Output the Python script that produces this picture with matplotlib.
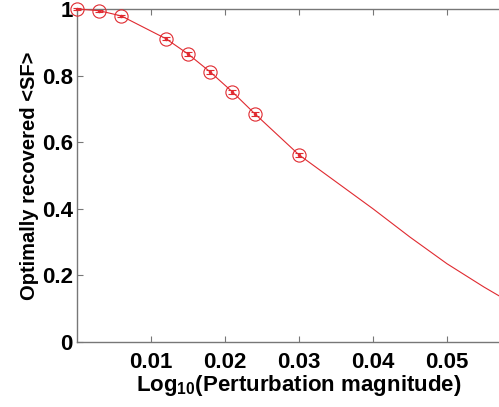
import matplotlib.pyplot as plt

# measured points (with error bars)
pert = [0.0, 0.003, 0.006, 0.012, 0.015, 0.018, 0.021, 0.024, 0.030]
sf = [1.0, 0.995, 0.979, 0.911, 0.865, 0.811, 0.751, 0.686, 0.562]
sf_err = [0.002, 0.003, 0.004, 0.004, 0.005, 0.005, 0.006, 0.006, 0.007]

# continuation of the curve (no markers)
pert_tail = [0.030, 0.035, 0.040, 0.045, 0.050, 0.055, 0.060]
sf_tail = [0.562, 0.481, 0.400, 0.315, 0.235, 0.165, 0.100]

plt.rcParams['font.family'] = ['Liberation Sans', 'DejaVu Sans']
plt.rcParams['mathtext.fontset'] = 'custom'
plt.rcParams['mathtext.rm'] = 'Liberation Sans:bold'

fig = plt.figure(figsize=(4.99, 4.07), dpi=100)
ax = fig.add_axes([0.1543, 0.1597, 0.8898, 0.8182])

red = '#e02a30'
ax.plot(pert_tail, sf_tail, color=red, lw=0.8)
ax.errorbar(pert, sf, yerr=sf_err, fmt='o', mfc='none', mec=red, ms=9.5,
            mew=0.8, ecolor=red, elinewidth=0.8, capsize=3, capthick=0.8,
            color=red, ls='-', lw=0.8, clip_on=False, zorder=3)
ax.plot(pert, sf, '.', color=red, ms=3, clip_on=False, zorder=4)

ax.set_xlim(0, 0.06)
ax.set_ylim(0, 1)
ax.set_xticks([0.01, 0.02, 0.03, 0.04, 0.05])
ax.set_xticklabels(['0.01', '0.02', '0.03', '0.04', '0.05'])
ax.set_yticks([0, 0.2, 0.4, 0.6, 0.8, 1])
ax.set_yticklabels(['0', '0.2', '0.4', '0.6', '0.8', '1'])

for s in ax.spines.values():
    s.set_color('#777777')
    s.set_linewidth(1.0)
ax.tick_params(direction='in', top=True, right=True, length=4, width=0.8,
               color='#777777', labelsize=16, pad=3)
ax.tick_params(axis='x', pad=7)
for lab in ax.get_xticklabels() + ax.get_yticklabels():
    lab.set_fontweight('bold')

ax.set_xlabel(r'Log$_{10}$(Perturbation magnitude)', fontsize=16,
              fontweight='bold', labelpad=0)
ax.set_ylabel('Optimally recovered <SF>', fontsize=14.5, fontweight='bold',
              labelpad=2)

fig.savefig('out.png', dpi=100)
